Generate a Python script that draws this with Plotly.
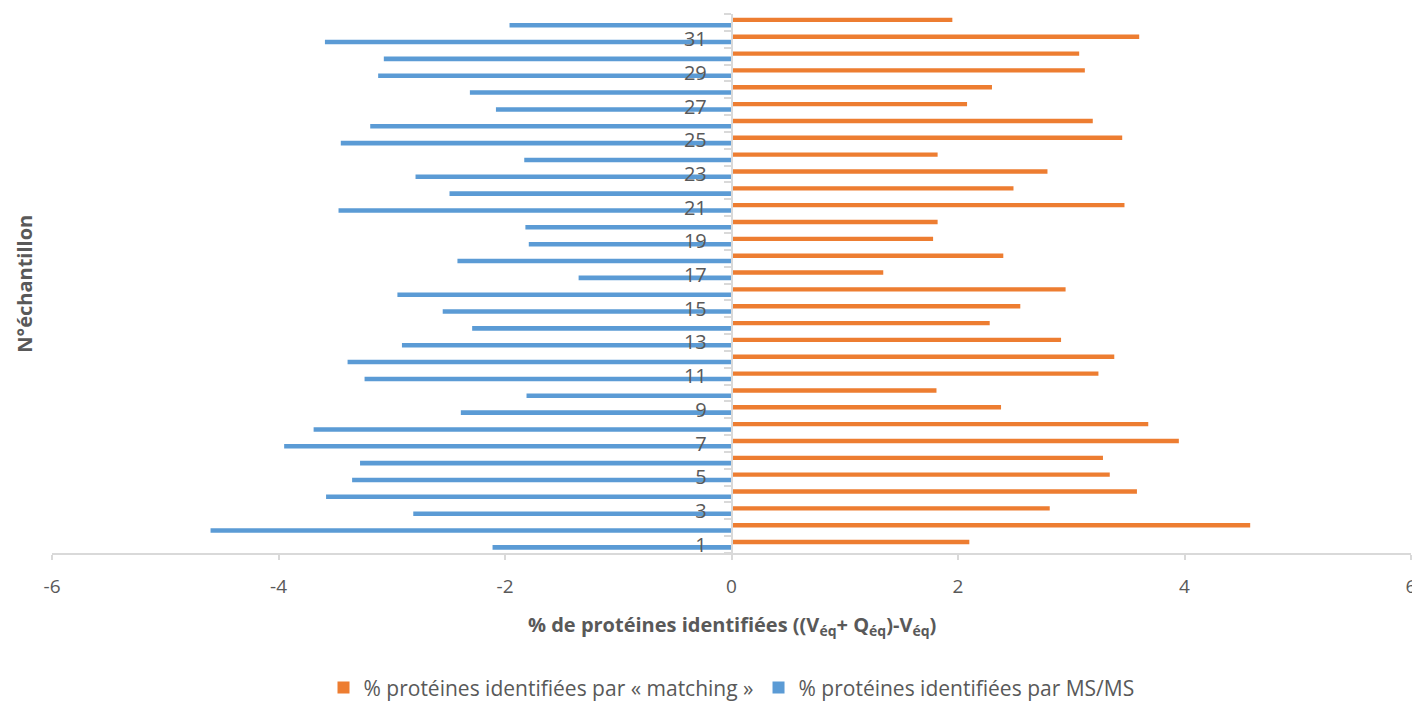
import plotly.graph_objects as go

samples = list(range(1, 33))
matching = [2.10, 4.58, 2.81, 3.58, 3.34, 3.28, 3.95, 3.68, 2.38, 1.81,
            3.24, 3.38, 2.91, 2.28, 2.55, 2.95, 1.34, 2.40, 1.78, 1.82,
            3.47, 2.49, 2.79, 1.82, 3.45, 3.19, 2.08, 2.30, 3.12, 3.07,
            3.60, 1.95]
msms = [-2.11, -4.60, -2.81, -3.58, -3.35, -3.28, -3.95, -3.69, -2.39, -1.81,
        -3.24, -3.39, -2.91, -2.29, -2.55, -2.95, -1.35, -2.42, -1.79, -1.82,
        -3.47, -2.49, -2.79, -1.83, -3.45, -3.19, -2.08, -2.31, -3.12, -3.07,
        -3.59, -1.96]
xticks = [-6, -4, -2, 0, 2, 4, 6]
yticks = list(range(1, 33, 2))

ORANGE = "#ED7D31"
BLUE = "#5B9BD5"
GRAY = "#595959"
LINE = "#d9d9d9"
FONT = "Open Sans"

fig = go.Figure()
fig.add_trace(go.Bar(
    y=samples, x=matching, orientation="h", name="% protéines identifiées par « matching »",
    marker=dict(color=ORANGE, line=dict(width=0)), width=0.26, offset=0.02,
))
fig.add_trace(go.Bar(
    y=samples, x=msms, orientation="h", name="% protéines identifiées par MS/MS",
    marker=dict(color=BLUE, line=dict(width=0)), width=0.27, offset=-0.30,
))

# the page body has an 8px margin, so the figure is shrunk by 8px on each side
fig.update_layout(
    width=1412, height=693,
    margin=dict(l=44, r=9, t=6, b=148, autoexpand=False),
    plot_bgcolor="white", paper_bgcolor="white",
    barmode="overlay", showlegend=True,
    font=dict(family=FONT, color=GRAY, size=17),
    xaxis=dict(
        range=[-6, 6], tickvals=xticks, ticktext=[str(v) for v in xticks],
        showgrid=False, zeroline=False, showline=True, linecolor=LINE, linewidth=1.5,
        ticks="outside", ticklen=5, tickcolor=LINE, tickwidth=1.5,
        ticklabelstandoff=10, automargin=False,
        tickfont=dict(size=19, color=GRAY),
    ),
    yaxis=dict(
        range=[0.5, 32.5], anchor="free", position=0.5, automargin=False,
        tickvals=yticks, ticktext=[str(v) for v in yticks],
        showgrid=False, zeroline=False, showline=True, linecolor=LINE, linewidth=1.5,
        ticks="outside", ticklen=0, tickcolor="rgba(0,0,0,0)",
        ticklabelstandoff=20,
        tickfont=dict(size=20, color=GRAY),
        minor=dict(tickmode="linear", tick0=0.5, dtick=1, ticks="outside",
                   ticklen=7, tickcolor=LINE, tickwidth=1.5, showgrid=False),
    ),
    legend=dict(orientation="h", x=0.5, xanchor="center", y=-0.25, yanchor="middle",
                font=dict(size=21, color=GRAY), traceorder="normal"),
    annotations=[
        dict(text="<b>N°échantillon</b>", textangle=-90, x=-0.0205, xanchor="center",
             xref="paper", y=0.5, yref="paper", yanchor="middle", showarrow=False,
             font=dict(size=20, color=GRAY)),
        dict(text="<b>% de protéines identifiées ((V<sub>éq</sub>+ Q<sub>éq</sub>)-V<sub>éq</sub>)</b>",
             x=0.5, xanchor="center", xref="paper", y=-0.1336, yref="paper",
             yanchor="middle", showarrow=False, font=dict(size=20, color=GRAY)),
    ],
)

fig.write_html("out.html")
